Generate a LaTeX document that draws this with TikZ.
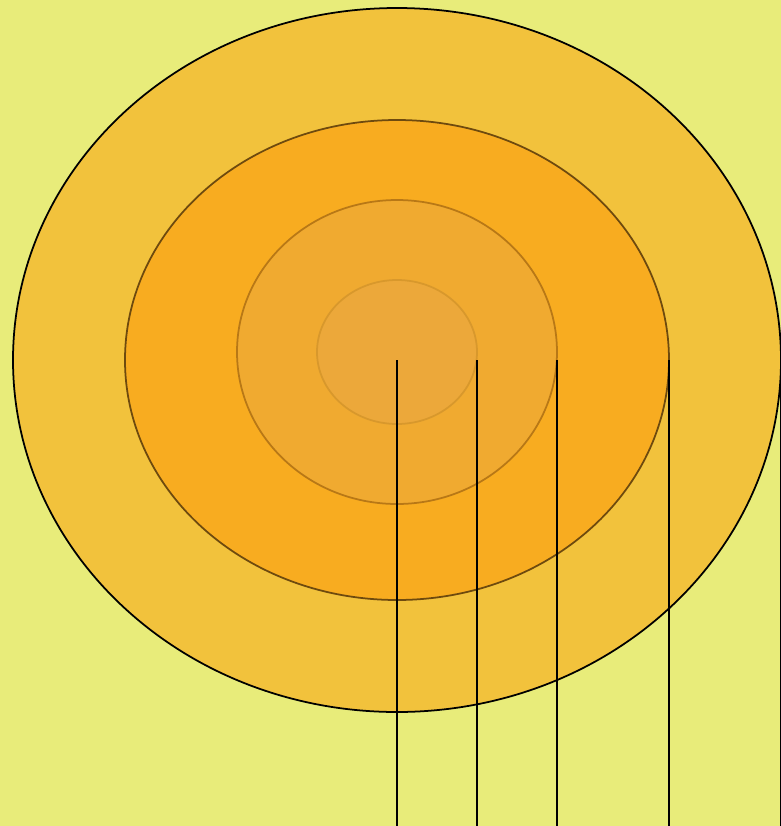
\documentclass[tikz,border=0pt]{standalone}
\definecolor{bgyellow}{HTML}{E8EC7A}
\definecolor{ringA}{HTML}{F2C23C}
\definecolor{ringB}{HTML}{F8AC20}
\definecolor{ringC}{HTML}{F0AA30}
\definecolor{ringD}{HTML}{ECA83A}
\definecolor{edgeB}{HTML}{6E4A0E}
\definecolor{edgeC}{HTML}{B87816}
\definecolor{edgeD}{HTML}{D8982C}
\begin{document}
\begin{tikzpicture}[x=0.02cm,y=-0.02cm,line width=1pt]
    % frame
    \useasboundingbox (0,0) rectangle (781,826);
    \clip (0,0) rectangle (781,826);
    \fill[bgyellow] (0,0) rectangle (781,826);
    % nested ellipses
    \draw[black,fill=ringA] (397,360) ellipse [x radius=384,y radius=352];
    \draw[edgeB,fill=ringB] (397,360) ellipse [x radius=272,y radius=240];
    \draw[edgeC,fill=ringC] (397,352) ellipse [x radius=160,y radius=152];
    \draw[edgeD,fill=ringD] (397,352) ellipse [x radius=80,y radius=72];
    % drop lines
    \foreach \x in {397,477,557,669,781}
        \draw[black] (\x,360) -- (\x,826);
\end{tikzpicture}
\end{document}
